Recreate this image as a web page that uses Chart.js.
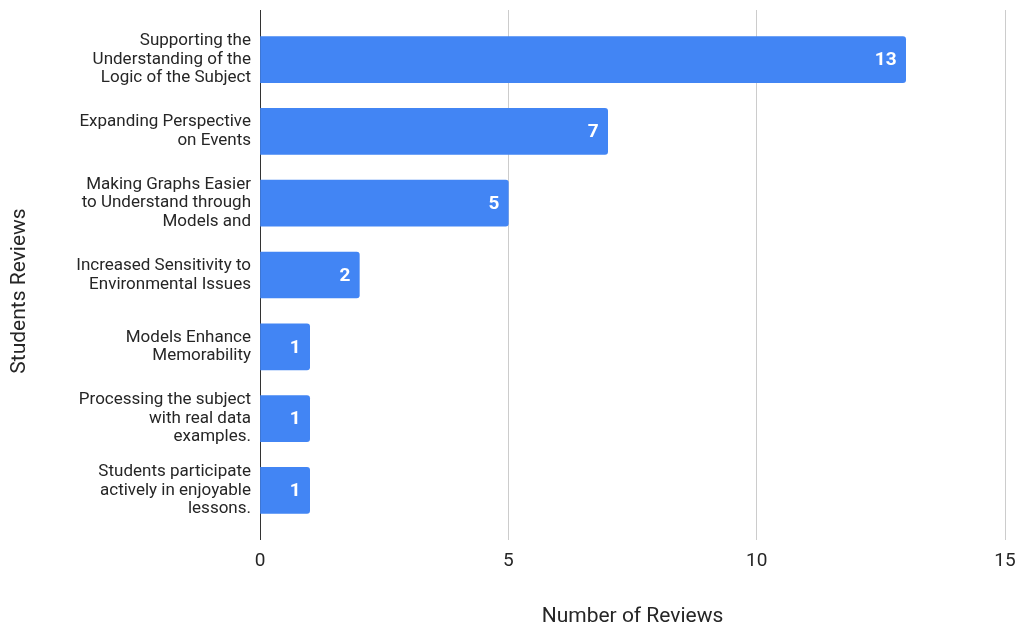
<!DOCTYPE html>
<html>
<head>
<meta charset="utf-8">
<title>Students Reviews</title>
<script src="https://cdn.jsdelivr.net/npm/chart.js@4/dist/chart.umd.min.js"></script>
<style>
  html, body { margin: 0; padding: 0; background: #fff; }
  #wrap { width: 1020px; height: 627px; }
</style>
</head>
<body>
<div id="wrap"><canvas id="reviewsChart" width="1020" height="627"></canvas></div>
<script>
const reviewLabels = [
    ['Supporting the', 'Understanding of the', 'Logic of the Subject'],
    ['Expanding Perspective', 'on Events'],
    ['Making Graphs Easier', 'to Understand through', 'Models and'],
    ['Increased Sensitivity to', 'Environmental Issues'],
    ['Models Enhance', 'Memorability'],
    ['Processing the subject', 'with real data', 'examples.'],
    ['Students participate', 'actively in enjoyable', 'lessons.'],
];
const reviewCounts = [13, 7, 5, 2, 1, 1, 1];
const xTicks = [0, 5, 10, 15];

const textColor = '#262626';
const barColor = '#4285f4';

// white count written inside the end of each bar
const barValueLabels = {
    id: 'barValueLabels',
    afterDatasetsDraw(chart) {
        const ctx = chart.ctx;
        const meta = chart.getDatasetMeta(0);
        ctx.save();
        ctx.fillStyle = '#ffffff';
        ctx.font = 'bold 19px Roboto';
        ctx.textAlign = 'right';
        ctx.textBaseline = 'middle';
        meta.data.forEach((bar, i) => {
            ctx.fillText(String(reviewCounts[i]), bar.x - 9, bar.y + 1);
        });
        ctx.restore();
    }
};

// vertical axis title, sat a little below the middle of the plot
const yAxisTitle = {
    id: 'yAxisTitle',
    afterDraw(chart) {
        const ctx = chart.ctx;
        const area = chart.chartArea;
        ctx.save();
        ctx.translate(20, (area.top + area.bottom) / 2 + 16);
        ctx.rotate(-Math.PI / 2);
        ctx.fillStyle = textColor;
        ctx.font = '21px Roboto';
        ctx.textAlign = 'center';
        ctx.textBaseline = 'middle';
        ctx.fillText('Students Reviews', 0, 0);
        ctx.restore();
    }
};

new Chart(document.getElementById('reviewsChart'), {
    type: 'bar',
    data: {
        datasets: [{
            data: reviewCounts.map((v, i) => ({ x: v, y: i })),
            backgroundColor: barColor,
            borderWidth: 0,
            borderRadius: 3,
            barThickness: 46,
        }]
    },
    options: {
        indexAxis: 'y',
        responsive: false,
        animation: false,
        layout: {
            padding: { top: 10, right: 15, left: 0, bottom: 0 }
        },
        plugins: {
            legend: { display: false },
            tooltip: { enabled: false },
        },
        scales: {
            x: {
                type: 'linear',
                min: 0,
                max: 15,
                afterBuildTicks: (scale) => {
                    scale.ticks = xTicks.map(v => ({ value: v }));
                },
                afterFit: (scale) => {
                    scale.height = 87;
                    scale.paddingLeft = 0;
                    scale.paddingRight = 0;
                },
                grid: {
                    drawTicks: false,
                    lineWidth: 1,
                    color: (c) => c.tick && c.tick.value === 0 ? '#333333' : '#cccccc',
                },
                border: { display: false },
                ticks: {
                    padding: 10,
                    color: textColor,
                    font: { family: 'Roboto', size: 19 },
                },
                title: {
                    display: true,
                    text: 'Number of Reviews',
                    color: textColor,
                    font: { family: 'Roboto', size: 21, lineHeight: 1.0 },
                    padding: { top: 0, bottom: 0 },
                },
            },
            y: {
                type: 'linear',
                reverse: true,
                offset: false,
                min: -0.69,
                max: 6.69,
                afterBuildTicks: (scale) => {
                    scale.ticks = reviewLabels.map((l, i) => ({ value: i }));
                },
                afterFit: (scale) => {
                    scale.width = 260;
                    scale.paddingTop = 0;
                    scale.paddingBottom = 0;
                },
                grid: { display: false, drawTicks: false },
                border: { display: false },
                ticks: {
                    padding: 9,
                    color: textColor,
                    autoSkip: false,
                    font: { family: 'Roboto', size: 17, lineHeight: 1.09 },
                    callback: (value) => reviewLabels[value],
                },
            },
        },
    },
    plugins: [barValueLabels, yAxisTitle],
});
</script>
</body>
</html>
